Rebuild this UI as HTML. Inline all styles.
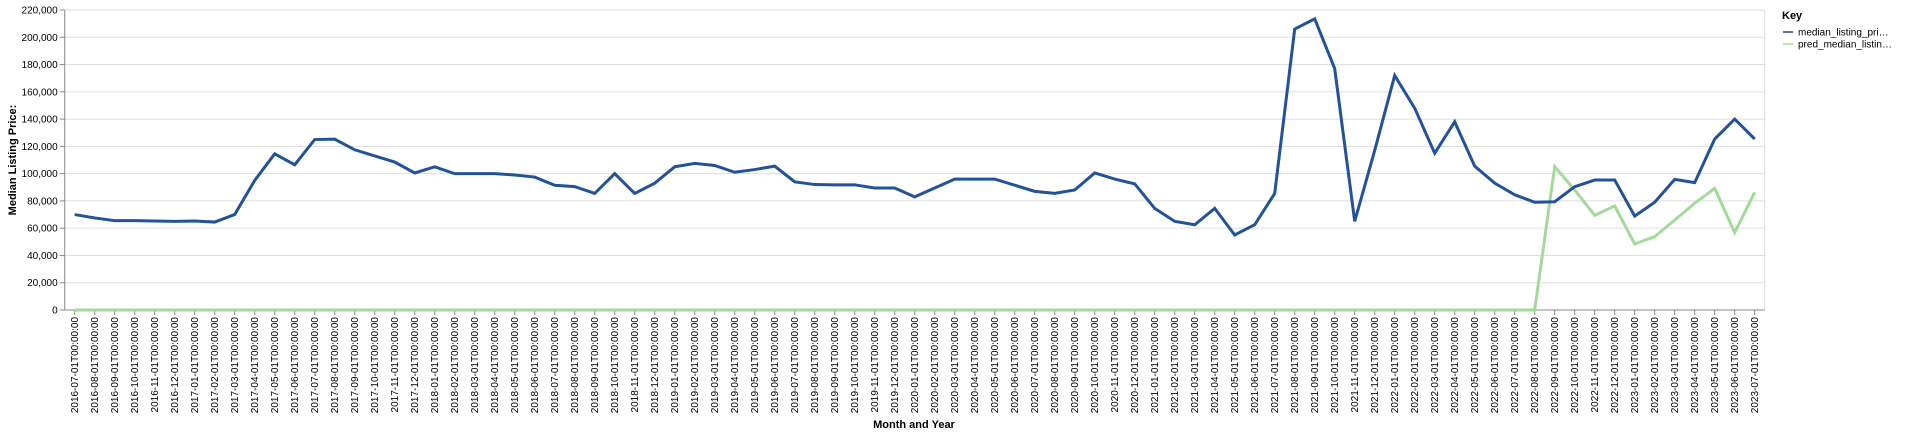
<!DOCTYPE html>
<html><head><meta charset="utf-8"><style>
html,body{margin:0;padding:0;background:#fff;}
svg{display:block;font-family:"Liberation Sans",Arial,sans-serif;}
</style></head><body>
<svg id="chart" width="1920" height="434" xmlns="http://www.w3.org/2000/svg">
<g id="grid"></g>
<g id="yaxis"></g>
<g id="xaxis"></g>
<g id="series"></g>
<text x="16" y="160" transform="rotate(-90 16 160)" text-anchor="middle" font-size="11" font-weight="bold" fill="#000">Median Listing Price:</text>
<text x="914" y="428" text-anchor="middle" font-size="11" font-weight="bold" fill="#000">Month and Year</text>
<g>
<text x="1782" y="19" font-size="11" font-weight="bold" fill="#000">Key</text>
<g>
<line x1="1783" y1="32" x2="1793" y2="32" stroke="#5474a6" stroke-width="2"/>
<text x="1798" y="35.5" font-size="10" fill="#000">median_listing_pri…</text></g>
<g>
<line x1="1783" y1="44" x2="1793" y2="44" stroke="#bde3b5" stroke-width="2"/>
<text x="1798" y="47.5" font-size="10" fill="#000">pred_median_listin…</text></g>
</g>
</svg>
<script>
const startYear = 2016, startMonth = 7, monthCount = 85;
const medianValues = [70000,67500,65500,65500,65300,65000,65300,64500,70000,95000,114500,106500,125000,125300,117500,113000,108500,100500,105000,100000,100000,100000,99000,97500,91500,90500,85500,100000,85500,93000,105000,107500,106000,101000,103000,105500,94000,92000,91800,91800,89500,89500,83000,89500,96000,96000,96000,91500,87000,85500,88000,100500,96000,92500,74500,65000,62500,74500,55000,62500,85500,206000,213500,177000,65000,117000,172000,148000,115000,138000,105500,93000,84500,79000,79400,90400,95300,95300,68900,79000,95800,93400,125400,140000,125400];
const predValues = [0,0,0,0,0,0,0,0,0,0,0,0,0,0,0,0,0,0,0,0,0,0,0,0,0,0,0,0,0,0,0,0,0,0,0,0,0,0,0,0,0,0,0,0,0,0,0,0,0,0,0,0,0,0,0,0,0,0,0,0,0,0,0,0,0,0,0,0,0,0,0,0,0,0,105100,88000,69400,76300,48400,53800,66000,78200,89200,56700,86300];
const yTicks = [0,20000,40000,60000,80000,100000,120000,140000,160000,180000,200000,220000];

const categories = [];
for (let i = 0; i < monthCount; i++) {
  const m = (startMonth - 1 + i) % 12 + 1, y = startYear + Math.floor((startMonth - 1 + i) / 12);
  categories.push(y + '-' + String(m).padStart(2,'0') + '-01T00:00:00');
}
const NS = 'http://www.w3.org/2000/svg';
const X0 = 64.7, X1 = 1764.7, Y0 = 310, Y1 = 10, YMAX = 220000;
const step = (X1 - X0) / categories.length;
const xs = i => X0 + step * (i + 0.5);
const ys = v => Y0 - (v / YMAX) * (Y0 - Y1);
function mk(tag, attrs, parent) { const e = document.createElementNS(NS, tag); for (const k in attrs) e.setAttribute(k, attrs[k]); parent.appendChild(e); return e; }
const grid = document.getElementById('grid'), yax = document.getElementById('yaxis'), xax = document.getElementById('xaxis'), ser = document.getElementById('series');
yTicks.forEach(t => {
  const y = ys(t);
  const g = mk('line', {x1: X0, x2: X1, y1: y, y2: y, stroke: '#ddd', 'stroke-width': 1}, grid);
  
  
  mk('line', {x1: X0 - 5, x2: X0, y1: y, y2: y, stroke: '#888'}, yax);
  const tx = mk('text', {x: X0 - 7, y: y + 3.5, 'text-anchor': 'end', 'font-size': 10, fill: '#000'}, yax);
  tx.textContent = t.toLocaleString('en-US');
  
  
});
mk('line', {x1: X0, x2: X0, y1: Y1, y2: Y0, stroke: '#888'}, yax);
mk('line', {x1: X1, x2: X1, y1: Y1, y2: Y0, stroke: '#ddd'}, grid);
mk('line', {x1: X0, x2: X1, y1: Y0, y2: Y0, stroke: '#888'}, xax);
categories.forEach((c, i) => {
  const x = xs(i);
  mk('line', {x1: x, x2: x, y1: Y0, y2: Y0 + 5, stroke: '#888'}, xax);
  const tx = mk('text', {x: x + 3.5, y: Y0 + 7, 'text-anchor': 'end', 'font-size': 10, fill: '#000', transform: 'rotate(-90 ' + (x + 3.5) + ' ' + (Y0 + 7) + ')'}, xax);
  tx.textContent = c;
  
  
});
function path(vals, color, name) {
  const d = vals.map((v, i) => (i ? 'L' : 'M') + xs(i).toFixed(2) + ',' + ys(v).toFixed(2)).join('');
  const p = mk('path', {d: d, fill: 'none', stroke: color, 'stroke-width': 3, 'stroke-linejoin': 'miter'}, ser);
  
  
}
path(predValues, '#a3da9b', 'pred-median-line');
path(medianValues, '#22529a', 'median-listing-price-line');
</script>
</body></html>
